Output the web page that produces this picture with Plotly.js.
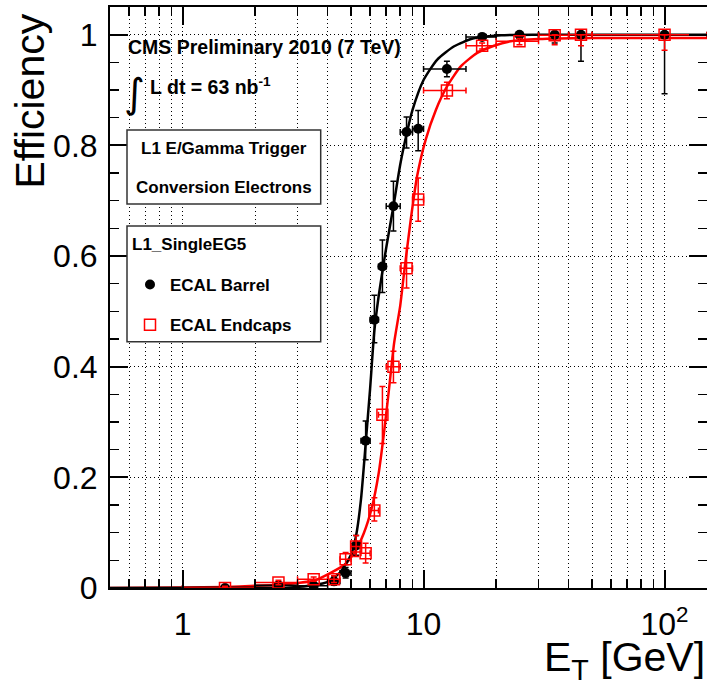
<!DOCTYPE html>
<html><head><meta charset="utf-8">
<script src="https://cdn.plot.ly/plotly-3.0.1.min.js"></script>
<style>html,body{margin:0;padding:0;background:#fff}#chart{width:707px;height:683px}</style>
</head><body><div id="chart"></div>
<script>
// bins (E_T in GeV)
const binLow    = [1, 2, 3, 4, 4.5, 5, 5.5, 6, 6.5, 7, 8, 9, 10, 15, 20, 30, 40, 50];
const binHigh   = [2, 3, 4, 4.5, 5, 5.5, 6, 6.5, 7, 8, 9, 10, 15, 20, 30, 40, 50, 150];
const binCenter = [1.5, 2.5, 3.5, 4.25, 4.75, 5.25, 5.75, 6.25, 6.75, 7.5, 8.5, 9.5, 12.5, 17.5, 25, 35, 45, 100];

// ECAL Barrel
const barrelEff     = [0.0, 0.005, 0.004, 0.012, 0.027, 0.077, 0.266, 0.485, 0.581, 0.690, 0.824, 0.830, 0.938, 0.996, 1.0, 1.0, 1.0, 1.0];
const barrelErrUp   = [0.003, 0.004, 0.004, 0.008, 0.010, 0.018, 0.036, 0.044, 0.048, 0.045, 0.027, 0.033, 0.014, 0.004, 0.0, 0.0, 0.0, 0.0];
const barrelErrDown = [0.0, 0.004, 0.003, 0.007, 0.009, 0.018, 0.034, 0.042, 0.047, 0.045, 0.029, 0.040, 0.014, 0.006, 0.003, 0.015, 0.048, 0.107];

// ECAL Endcaps
const endcapEff     = [0.0, 0.010, 0.016, 0.016, 0.052, 0.075, 0.063, 0.140, 0.313, 0.400, 0.578, 0.702, 0.899, 0.980, 0.988, 0.999, 1.0, 1.0];
const endcapErrUp   = [0.003, 0.004, 0.004, 0.006, 0.012, 0.020, 0.018, 0.023, 0.051, 0.028, 0.036, 0.039, 0.015, 0.005, 0.005, 0.001, 0.0, 0.0];
const endcapErrDown = [0.0, 0.004, 0.004, 0.006, 0.010, 0.018, 0.018, 0.019, 0.052, 0.029, 0.036, 0.039, 0.015, 0.006, 0.006, 0.017, 0.020, 0.028];

// fitted turn-on curves
const barrelFitX = [0.5, 2.5, 3.0, 3.5, 4.0, 4.5, 5.0, 5.25, 5.5, 5.75, 6.0, 6.25, 6.5, 6.75, 7.0, 7.5, 8.0, 8.5, 9.0, 10, 11.4, 13.4, 16, 21, 30, 150];
const barrelFitY = [0.0, 0.0005, 0.002, 0.005, 0.011, 0.028, 0.06, 0.095, 0.16, 0.26, 0.36, 0.465, 0.525, 0.572, 0.615, 0.69, 0.765, 0.82, 0.864, 0.918, 0.955, 0.979, 0.993, 0.999, 1.0, 1.0];
const endcapFitX = [0.5, 1.0, 1.5, 2.0, 2.5, 3.0, 3.5, 4.1, 4.7, 5.15, 5.65, 6.1, 6.5, 6.85, 7.2, 7.55, 8.0, 8.3, 8.85, 9.4, 10.2, 11.25, 12.5, 14.3, 16.7, 19.6, 23, 30, 50, 150];
const endcapFitY = [0.0, 0.001, 0.002, 0.004, 0.006, 0.009, 0.013, 0.027, 0.042, 0.063, 0.099, 0.145, 0.205, 0.28, 0.362, 0.443, 0.51, 0.569, 0.666, 0.744, 0.81, 0.864, 0.906, 0.943, 0.967, 0.98, 0.988, 0.992, 0.994, 0.994];

// axis ticks
const xMajorVals = [1, 10, 100];
const xMajorText = ['1', '10', '10<sup>2</sup>'];
const xMinorVals = [0.6, 0.7, 0.8, 0.9, 2, 3, 4, 5, 6, 7, 8, 9, 20, 30, 40, 50, 60, 70, 80, 90];
const yTickVals = [0, 0.2, 0.4, 0.6, 0.8, 1];
const yTickText = ['0', '0.2', '0.4', '0.6', '0.8', '1'];

const plusErr  = binCenter.map((c, i) => binHigh[i] - c);
const minusErr = binCenter.map((c, i) => c - binLow[i]);

const FONT = 'Liberation Sans, Arial, Helvetica, sans-serif';
const RED = '#ff0000';

const traces = [
  {x: endcapFitX, y: endcapFitY, mode: 'lines', line: {color: RED, width: 2.5, shape: 'spline', smoothing: 0.6}, showlegend: false, hoverinfo: 'skip'},
  {x: barrelFitX, y: barrelFitY, mode: 'lines', line: {color: '#000', width: 2.5, shape: 'spline', smoothing: 0.6}, showlegend: false, hoverinfo: 'skip'},
  {x: binCenter, y: barrelEff, mode: 'markers', name: 'ECAL Barrel', legendgroup: 'b',
   marker: {symbol: 'circle', size: 10, color: '#000'},
   error_y: {type: 'data', symmetric: false, array: barrelErrUp, arrayminus: barrelErrDown, color: '#000', thickness: 1.5, width: 3},
   error_x: {type: 'data', symmetric: false, array: plusErr, arrayminus: minusErr, color: '#000', thickness: 1.5, width: 3}},
  {x: binCenter, y: endcapEff, mode: 'markers', name: 'ECAL Endcaps', legendgroup: 'e',
   marker: {symbol: 'square-open', size: 11, color: RED, line: {width: 1.5, color: RED}},
   error_y: {type: 'data', symmetric: false, array: endcapErrUp, arrayminus: endcapErrDown, color: RED, thickness: 1.5, width: 3},
   error_x: {type: 'data', symmetric: false, array: plusErr, arrayminus: minusErr, color: RED, thickness: 1.5, width: 3}}
];

const W = 597, H = 581, L = 110, T = 7;
const px = v => (v - L) / W;
const py = v => (T + H - v) / H;

const layout = {
  width: 707, height: 683,
  margin: {l: 110, r: 0, t: 7, b: 95},
  paper_bgcolor: '#fff', plot_bgcolor: '#fff',
  font: {family: FONT, color: '#000'},
  showlegend: true,
  legend: {x: px(130), y: py(267), xanchor: 'left', yanchor: 'top', bgcolor: 'rgba(0,0,0,0)', borderwidth: 0,
           font: {family: FONT, size: 17, color: '#000', weight: 700}, tracegroupgap: 15, traceorder: 'grouped'},
  xaxis: {
    type: 'log', range: [Math.log10(0.5), Math.log10(150)],
    tickmode: 'array', tickvals: xMajorVals, ticktext: xMajorText,
    ticks: 'inside', ticklen: 18, tickwidth: 2, tickcolor: '#000',
    showline: true, linecolor: '#000', linewidth: 2, mirror: 'ticks',
    showgrid: true, gridcolor: '#000', gridwidth: 1, griddash: '1px,3px',
    zeroline: false, ticklabelstandoff: 7,
    tickfont: {family: FONT, size: 32, color: '#000'},
    minor: {tickmode: 'array', tickvals: xMinorVals, ticks: 'inside', ticklen: 9, tickwidth: 1.5, tickcolor: '#000',
            showgrid: true, gridcolor: '#000', gridwidth: 1, griddash: '1px,3px'}
  },
  yaxis: {
    range: [0, 1.05],
    tickmode: 'array', tickvals: yTickVals, ticktext: yTickText,
    ticks: 'inside', ticklen: 18, tickwidth: 2, tickcolor: '#000',
    showline: true, linecolor: '#000', linewidth: 2, mirror: 'ticks',
    showgrid: true, gridcolor: '#000', gridwidth: 1, griddash: '1px,3px',
    zeroline: false, ticklabelstandoff: 4,
    tickfont: {family: FONT, size: 32, color: '#000'},
    minor: {dtick: 0.05, tick0: 0, ticks: 'inside', ticklen: 9, tickwidth: 1.5, tickcolor: '#000', showgrid: false}
  },
  shapes: [
    {type: 'rect', xref: 'paper', yref: 'paper', x0: px(127), x1: px(320.7), y0: py(204), y1: py(130),
     fillcolor: '#fff', line: {color: '#333', width: 1.5}, layer: 'above'},
    {type: 'rect', xref: 'paper', yref: 'paper', x0: px(127), x1: px(320.7), y0: py(341.7), y1: py(226),
     fillcolor: '#fff', line: {color: '#333', width: 1.5}, layer: 'above'}
  ],
  annotations: [
    {xref: 'paper', yref: 'paper', x: px(126), y: py(47), xanchor: 'left', yanchor: 'middle', showarrow: false,
     text: 'CMS Preliminary 2010 (7 TeV)', font: {family: FONT, size: 19.5, color: '#000', weight: 700}},
    {xref: 'paper', yref: 'paper', x: px(122), y: py(93), xanchor: 'left', yanchor: 'middle', showarrow: false,
     text: '∫', font: {family: 'DejaVu Sans', size: 40, color: '#000'}},
    {xref: 'paper', yref: 'paper', x: px(148), y: py(86), xanchor: 'left', yanchor: 'middle', showarrow: false,
     text: 'L dt = 63 nb<sup>-1</sup>', font: {family: FONT, size: 19.5, color: '#000', weight: 700}},
    {xref: 'paper', yref: 'paper', x: px(223.8), y: py(149), xanchor: 'center', yanchor: 'middle', showarrow: false,
     text: 'L1 E/Gamma Trigger', font: {family: FONT, size: 17, color: '#000', weight: 700}},
    {xref: 'paper', yref: 'paper', x: px(223.8), y: py(187.7), xanchor: 'center', yanchor: 'middle', showarrow: false,
     text: 'Conversion Electrons', font: {family: FONT, size: 17, color: '#000', weight: 700}},
    {xref: 'paper', yref: 'paper', x: px(130), y: py(244), xanchor: 'left', yanchor: 'middle', showarrow: false,
     text: 'L1_SingleEG5', font: {family: FONT, size: 17, color: '#000', weight: 700}},
    {xref: 'paper', yref: 'paper', x: px(30), y: py(12), xanchor: 'center', yanchor: 'top', showarrow: false, textangle: -90,
     text: 'Efficiency', font: {family: FONT, size: 41, color: '#000'}},
    {xref: 'paper', yref: 'paper', x: px(707), y: py(660), xanchor: 'right', yanchor: 'middle', showarrow: false,
     text: 'E<sub>T</sub> [GeV]', font: {family: FONT, size: 41, color: '#000'}}
  ]
};

Plotly.newPlot('chart', traces, layout, {staticPlot: true, displayModeBar: false});
</script>
</body></html>
